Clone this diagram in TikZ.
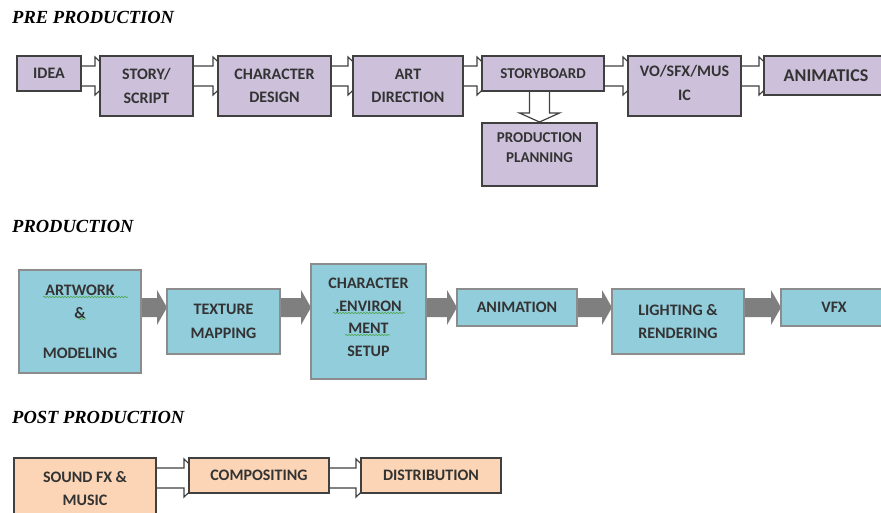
\documentclass[tikz,border=0pt]{standalone}
\usepackage{fontspec}
\setmainfont{Liberation Serif}
\newfontfamily\boxfont{Carlito}
\usetikzlibrary{positioning}
\usetikzlibrary{calc}
\usetikzlibrary{backgrounds}
\usetikzlibrary{decorations.pathmorphing}
\definecolor{prefill}{HTML}{CCC0DA}
\definecolor{prodfill}{HTML}{92CDDC}
\definecolor{postfill}{HTML}{FBD5B5}
\definecolor{arrowgray}{HTML}{7F7F7F}
\definecolor{spellgreen}{HTML}{4CA64C}
\tikzset{
  box/.style      = { rectangle, inner sep=0pt, outer sep=0pt, align=center, text=black!80,
                      font=\boxfont\bfseries\fontsize{16}{23.5}\selectfont },
  border/.style   = { line width=1.3pt, draw=black!75 },
  title/.style    = { anchor=base west, inner sep=0pt,
                      font=\bfseries\itshape\fontsize{18.5}{20}\selectfont },
}
\tikzset{
  prebox/.style   = { box, border, fill=prefill },
  prodbox/.style  = { box, line width=1.3pt, draw=black!45, fill=prodfill },
  postbox/.style  = { box, border, fill=postfill },
  % hollow block arrow, its head tucked under the next box
  flow/.style     = { draw=black!75, line width=1.2pt, fill=white,
                      to path={ let \p1=(\tikztostart.north east), \p2=(\tikztotarget.west) in
                        (\x1,\y1-10pt) -- (\x2-5pt,\y1-10pt) -- (\x2-5pt,\y1-1pt)
                        -- (\x2+15pt,\y1-20pt)
                        -- (\x2-5pt,\y1-39pt) -- (\x2-5pt,\y1-30pt) -- (\x1,\y1-30pt) -- cycle } },
  drop/.style     = { draw=black!75, line width=1.2pt, fill=white,
                      to path={ let \p1=(\tikztostart.south), \p2=(\tikztotarget.north) in
                        (\x2-10pt,\y1+2pt) -- (\x2-10pt,\y2+10pt) -- (\x2-20pt,\y2+10pt)
                        -- (\x2,\y2+1pt)
                        -- (\x2+20pt,\y2+10pt) -- (\x2+10pt,\y2+10pt) -- (\x2+10pt,\y1+2pt) -- cycle } },
  % solid grey arrow, centred on the line of node #1
  push/.style     = { fill=arrowgray,
                      to path={ let \p1=(\tikztostart.east), \p2=(\tikztotarget.west), \p3=(#1) in
                        (\x1,\y3+9.5pt) -- (\x2-10pt,\y3+9.5pt) -- (\x2-10pt,\y3+17.5pt)
                        -- (\x2,\y3)
                        -- (\x2-10pt,\y3-17.5pt) -- (\x2-10pt,\y3-9.5pt) -- (\x1,\y3-9.5pt) -- cycle } },
  spell/.style    = { draw=spellgreen, line width=0.6pt, decorate,
                      decoration={snake, segment length=3pt, amplitude=0.7pt} },
}

\begin{document}
\begin{tikzpicture}
  \useasboundingbox (0,0) rectangle (881pt,-512pt);

  \node (pretitle)  [title] at (12pt,-23pt)  {PRE PRODUCTION};
  \node (prodtitle) [title] at (12pt,-232pt) {PRODUCTION};
  \node (posttitle) [title] at (12pt,-423pt) {POST PRODUCTION};

  % pre production
  \node (idea)     [prebox,minimum width=64pt,minimum height=35pt,anchor=north west] at (17pt,-56pt) {IDEA};
  \node (story)    [prebox,minimum width=93pt,minimum height=60pt,right=19pt of idea.north east,anchor=north west]  {STORY/\\SCRIPT};
  \node (chardes)  [prebox,minimum width=113pt,minimum height=60pt,right=25pt of story.north east,anchor=north west] {CHARACTER\\DESIGN};
  \node (artdir)   [prebox,minimum width=110pt,minimum height=60pt,right=22pt of chardes.north east,anchor=north west] {ART\\DIRECTION};
  \node (board)    [prebox,minimum width=122pt,minimum height=35pt,right=19pt of artdir.north east,anchor=north west,
                    font=\boxfont\bfseries\fontsize{15}{22}\selectfont] {STORYBOARD};
  \node (vosfx)    [prebox,minimum width=113pt,minimum height=60pt,right=24pt of board.north east,anchor=north west]  {VO/SFX/MUS\\IC\\[-17pt]\mbox{}};
  \node (animatic) [prebox,minimum width=124pt,minimum height=39pt,right=23pt of vosfx.north east,anchor=north west,
                    font=\boxfont\bfseries\fontsize{18}{22}\selectfont] {ANIMATICS};
  \node (planning) [prebox,minimum width=115pt,minimum height=63pt,below=32pt of board.south west,anchor=north west,
                    font=\boxfont\bfseries\fontsize{15}{20}\selectfont] {PRODUCTION\\PLANNING\\[-6pt]\mbox{}};

  % production
  \node (artwork)  [prodbox,minimum width=122pt,minimum height=103pt,anchor=north west] at (19pt,-270pt) {ARTWORK\\\&\\[16pt]MODELING};
  \node (texture)  [prodbox,minimum width=113pt,minimum height=65pt,right=26pt of artwork]  {TEXTURE\\MAPPING};
  \node (charenv)  [prodbox,minimum width=115pt,minimum height=115pt,right=31pt of texture,
                    font=\boxfont\bfseries\fontsize{16}{22.7}\selectfont] {CHARACTER\\,ENVIRON\\MENT\\SETUP\\[-14pt]\mbox{}};
  \node (anim)     [prodbox,minimum width=120pt,minimum height=37pt,right=31pt of charenv,yshift=14pt] {ANIMATION};
  \node (lighting) [prodbox,minimum width=132pt,minimum height=65pt,right=35pt of anim.north east,anchor=north west] {LIGHTING \&\\RENDERING};
  \node (vfx)      [prodbox,minimum width=106pt,minimum height=37pt,right=37pt of lighting.north east,anchor=north west] {VFX};

  % post production
  \node (sound)    [postbox,minimum width=142pt,minimum height=61pt,anchor=north west] at (14pt,-458pt) {SOUND FX \&\\MUSIC};
  \node (comp)     [postbox,minimum width=140pt,minimum height=35pt,right=33pt of sound.north east,anchor=north west] {COMPOSITING};
  \node (distrib)  [postbox,minimum width=140pt,minimum height=35pt,right=32pt of comp.north east,anchor=north west] {DISTRIBUTION};

  \begin{scope}[on background layer]
    \draw [flow] (idea)    to (story);
    \draw [flow] (story)   to (chardes);
    \draw [flow] (chardes) to (artdir);
    \draw [flow] (artdir)  to (board);
    \draw [flow] (board)   to (vosfx);
    \draw [flow] (vosfx)   to (animatic);
    \draw [drop] (board)   to (planning);

    \fill [push=anim] (artwork)  to (texture);
    \fill [push=anim] (texture)  to (charenv);
    \fill [push=anim] (charenv)  to (anim);
    \fill [push=anim] (anim)     to (lighting);
    \fill [push=anim] (lighting) to (vfx);

    \draw [flow] (sound) to (comp);
    \draw [flow] (comp)  to (distrib);
  \end{scope}

  \draw [spell] ($(artwork.north west)+(24pt,-27pt)$) -- ++(85pt,0);
  \draw [spell] ($(artwork.north west)+(59pt,-49pt)$) -- ++(8pt,0);
  \draw [spell] ($(charenv.north west)+(22pt,-49pt)$) -- ++(72pt,0);
  \draw [spell] ($(charenv.north west)+(34pt,-71pt)$) -- ++(45pt,0);

\end{tikzpicture}
\end{document}
